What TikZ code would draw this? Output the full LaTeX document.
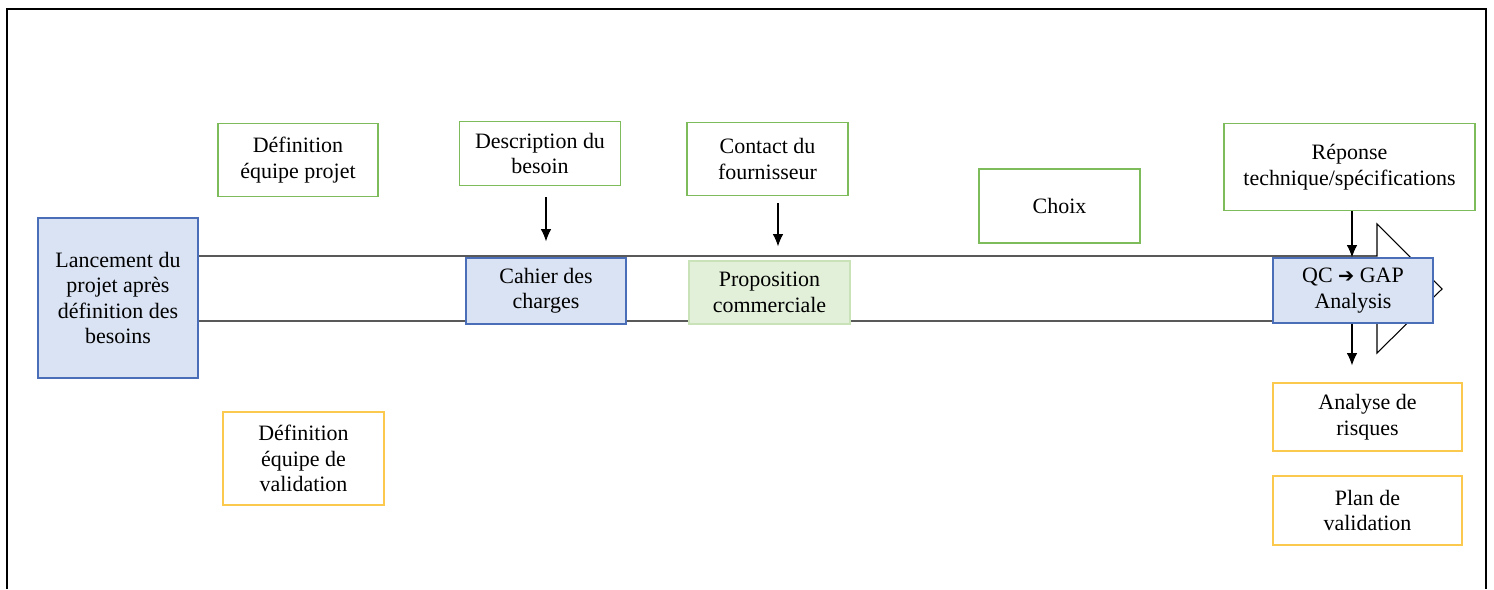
\documentclass[tikz,border=0pt]{standalone}
\usepackage{fontspec}
\setmainfont{Liberation Serif}
\newfontfamily\arrowfont{DejaVu Sans}
\usetikzlibrary{arrows.meta}

\definecolor{bluefill}{HTML}{DAE3F3}
\definecolor{blueline}{HTML}{4A6FB8}
\definecolor{greenline}{HTML}{7DBB5B}
\definecolor{greenfill}{HTML}{E2F0D9}
\definecolor{greenpale}{HTML}{C9E2B8}
\definecolor{goldline}{HTML}{FBC94E}

\tikzset{
  box/.style={draw, line width=0.7pt, inner sep=1pt, align=center,
    font=\fontsize{12.5}{14.5}\selectfont},
  bluebox/.style={box, draw=blueline, fill=bluefill},
  greenbox/.style={box, draw=greenline, fill=white},
  propbox/.style={box, draw=greenpale, fill=greenfill},
  goldbox/.style={box, draw=goldline, fill=white},
  arr/.style={-{Latex[length=7pt,width=6pt]}, line width=0.6pt}
}

\begin{document}
\begin{tikzpicture}[x=0.02cm, y=-0.02cm]
\useasboundingbox (0,0) rectangle (1494,589);

% we draw the frame
\draw[line width=1.2pt] (7,589) -- (7,9) -- (1486,9) -- (1486,589);

% we draw the big arrow
\draw[line width=0.6pt] (198,256) -- (1377,256) -- (1377,224) -- (1442,289)
  -- (1377,353) -- (1377,321) -- (198,321);

% the steps on the arrow
\node (lancement) [bluebox, minimum width=3.2cm, minimum height=3.2cm] at (118,298)
  {Lancement du\\projet après\\définition des\\besoins};
\node (cahier) [bluebox, minimum width=3.2cm, minimum height=1.32cm] at (546,291)
  {Cahier des\\charges};
\node (prop) [propbox, minimum width=3.22cm, minimum height=1.26cm] at (769.5,292.5)
  {Proposition\\commerciale};
\node (qc) [bluebox, minimum width=3.2cm, minimum height=1.3cm] at (1353,290.5)
  {QC {\arrowfont\bfseries\fontsize{11}{11}\selectfont ➔} GAP\\Analysis};

% we add the green boxes
\node (defprojet) [greenbox, minimum width=3.2cm, minimum height=1.46cm] at (298,160)
  {Définition\\équipe projet};
\node (desc) [greenbox, minimum width=3.22cm, minimum height=1.28cm] at (540,153.5)
  {Description du\\besoin};
\node (contact) [greenbox, minimum width=3.22cm, minimum height=1.46cm] at (767.5,159)
  {Contact du\\fournisseur};
\node (choix) [greenbox, minimum width=3.22cm, minimum height=1.48cm] at (1059.5,206)
  {Choix};
\node (reponse) [greenbox, minimum width=5.02cm, minimum height=1.74cm] at (1349.5,167)
  {Réponse\\technique/spécifications};

% we add the yellow boxes
\node (defvalid) [goldbox, minimum width=3.22cm, minimum height=1.86cm] at (303.5,458.5)
  {Définition\\équipe de\\validation};
\node (analyse) [goldbox, minimum width=3.78cm, minimum height=1.36cm] at (1367.5,417)
  {Analyse de\\risques};
\node (plan) [goldbox, minimum width=3.78cm, minimum height=1.38cm] at (1367.5,510.5)
  {Plan de\\validation};

% the arrows
\draw[arr, shorten <=0.22cm, shorten >=0.32cm] (cahier.north |- desc.south) -- (cahier.north);
\draw[arr, shorten <=0.14cm, shorten >=0.28cm] (contact.south -| 778,0) -- (prop.north -| 778,0);
\draw[arr] (reponse.south -| 1352,0) -- (qc.north -| 1352,0);
\draw[arr, shorten >=0.34cm] (qc.south -| 1352,0) -- (analyse.north -| 1352,0);

\end{tikzpicture}
\end{document}
